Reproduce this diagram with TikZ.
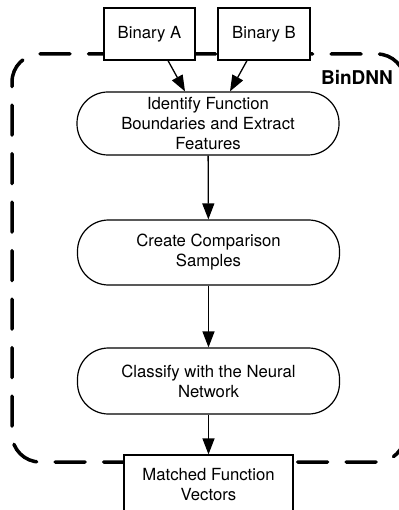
\documentclass[tikz,border=0pt]{standalone}
\usepackage{fontspec}
\setmainfont{TeX Gyre Heros}
\usetikzlibrary{arrows.meta,calc}
\begin{document}
\begin{tikzpicture}[x=1pt,y=-1pt,
  txt/.style={font=\fontsize{16.7}{20}\selectfont, align=center, inner sep=0pt},
  box/.style={txt, draw, fill=white, line width=1.2pt},
  stadium/.style={txt, draw, line width=1.2pt, rounded corners=31pt, minimum width=262pt},
  frame/.style={line width=3.5pt, line cap=round, dash pattern=on 30pt off 18.5pt, rounded corners=28pt},
  arr/.style={line width=1.3pt, -{Triangle[length=16pt,width=12pt]}}
]
\useasboundingbox (0,0) rectangle (398,510);
% dashed frame
\draw[frame, dash phase=30pt] (40,54) -- (12,54) -- (12,462) -- (405,462) -- (405,258);
\draw[frame] (40,54) -- (405,54) -- (405,258);
% nodes
\node[box, minimum width=91pt, minimum height=52pt] (A) at (149.5,34) {Binary A};
\node[box, minimum width=92pt, minimum height=52pt] (B) at (264,34) {Binary B};
\node[font=\bfseries\fontsize{19}{22}\selectfont, anchor=east, inner sep=0pt] (lbl) at (393,77) {BinDNN};
\node[stadium, minimum height=63pt] (S1) at (208,123.5) {Identify Function\\Boundaries and Extract\\Features};
\node[stadium, minimum height=65pt] (S2) at (208.5,252.5) {Create Comparison\\Samples};
\node[stadium, minimum height=66pt] (S3) at (208.5,381) {Classify with the Neural\\Network};
\node[box, minimum width=169pt, minimum height=60pt] (M) at (208.5,485) {Matched Function\\Vectors};
% connectors
\draw[arr] ($(A.south)+(18.5,0)$) -- ($(S1.north)+(-23,0)$);
\draw[arr] ($(B.south)+(-17,0)$) -- ($(S1.north)+(22,0)$);
\draw[arr] (S1) -- (S2);
\draw[arr] (S2) -- (S3);
\draw[arr] (S3) -- (M);
\end{tikzpicture}
\end{document}
